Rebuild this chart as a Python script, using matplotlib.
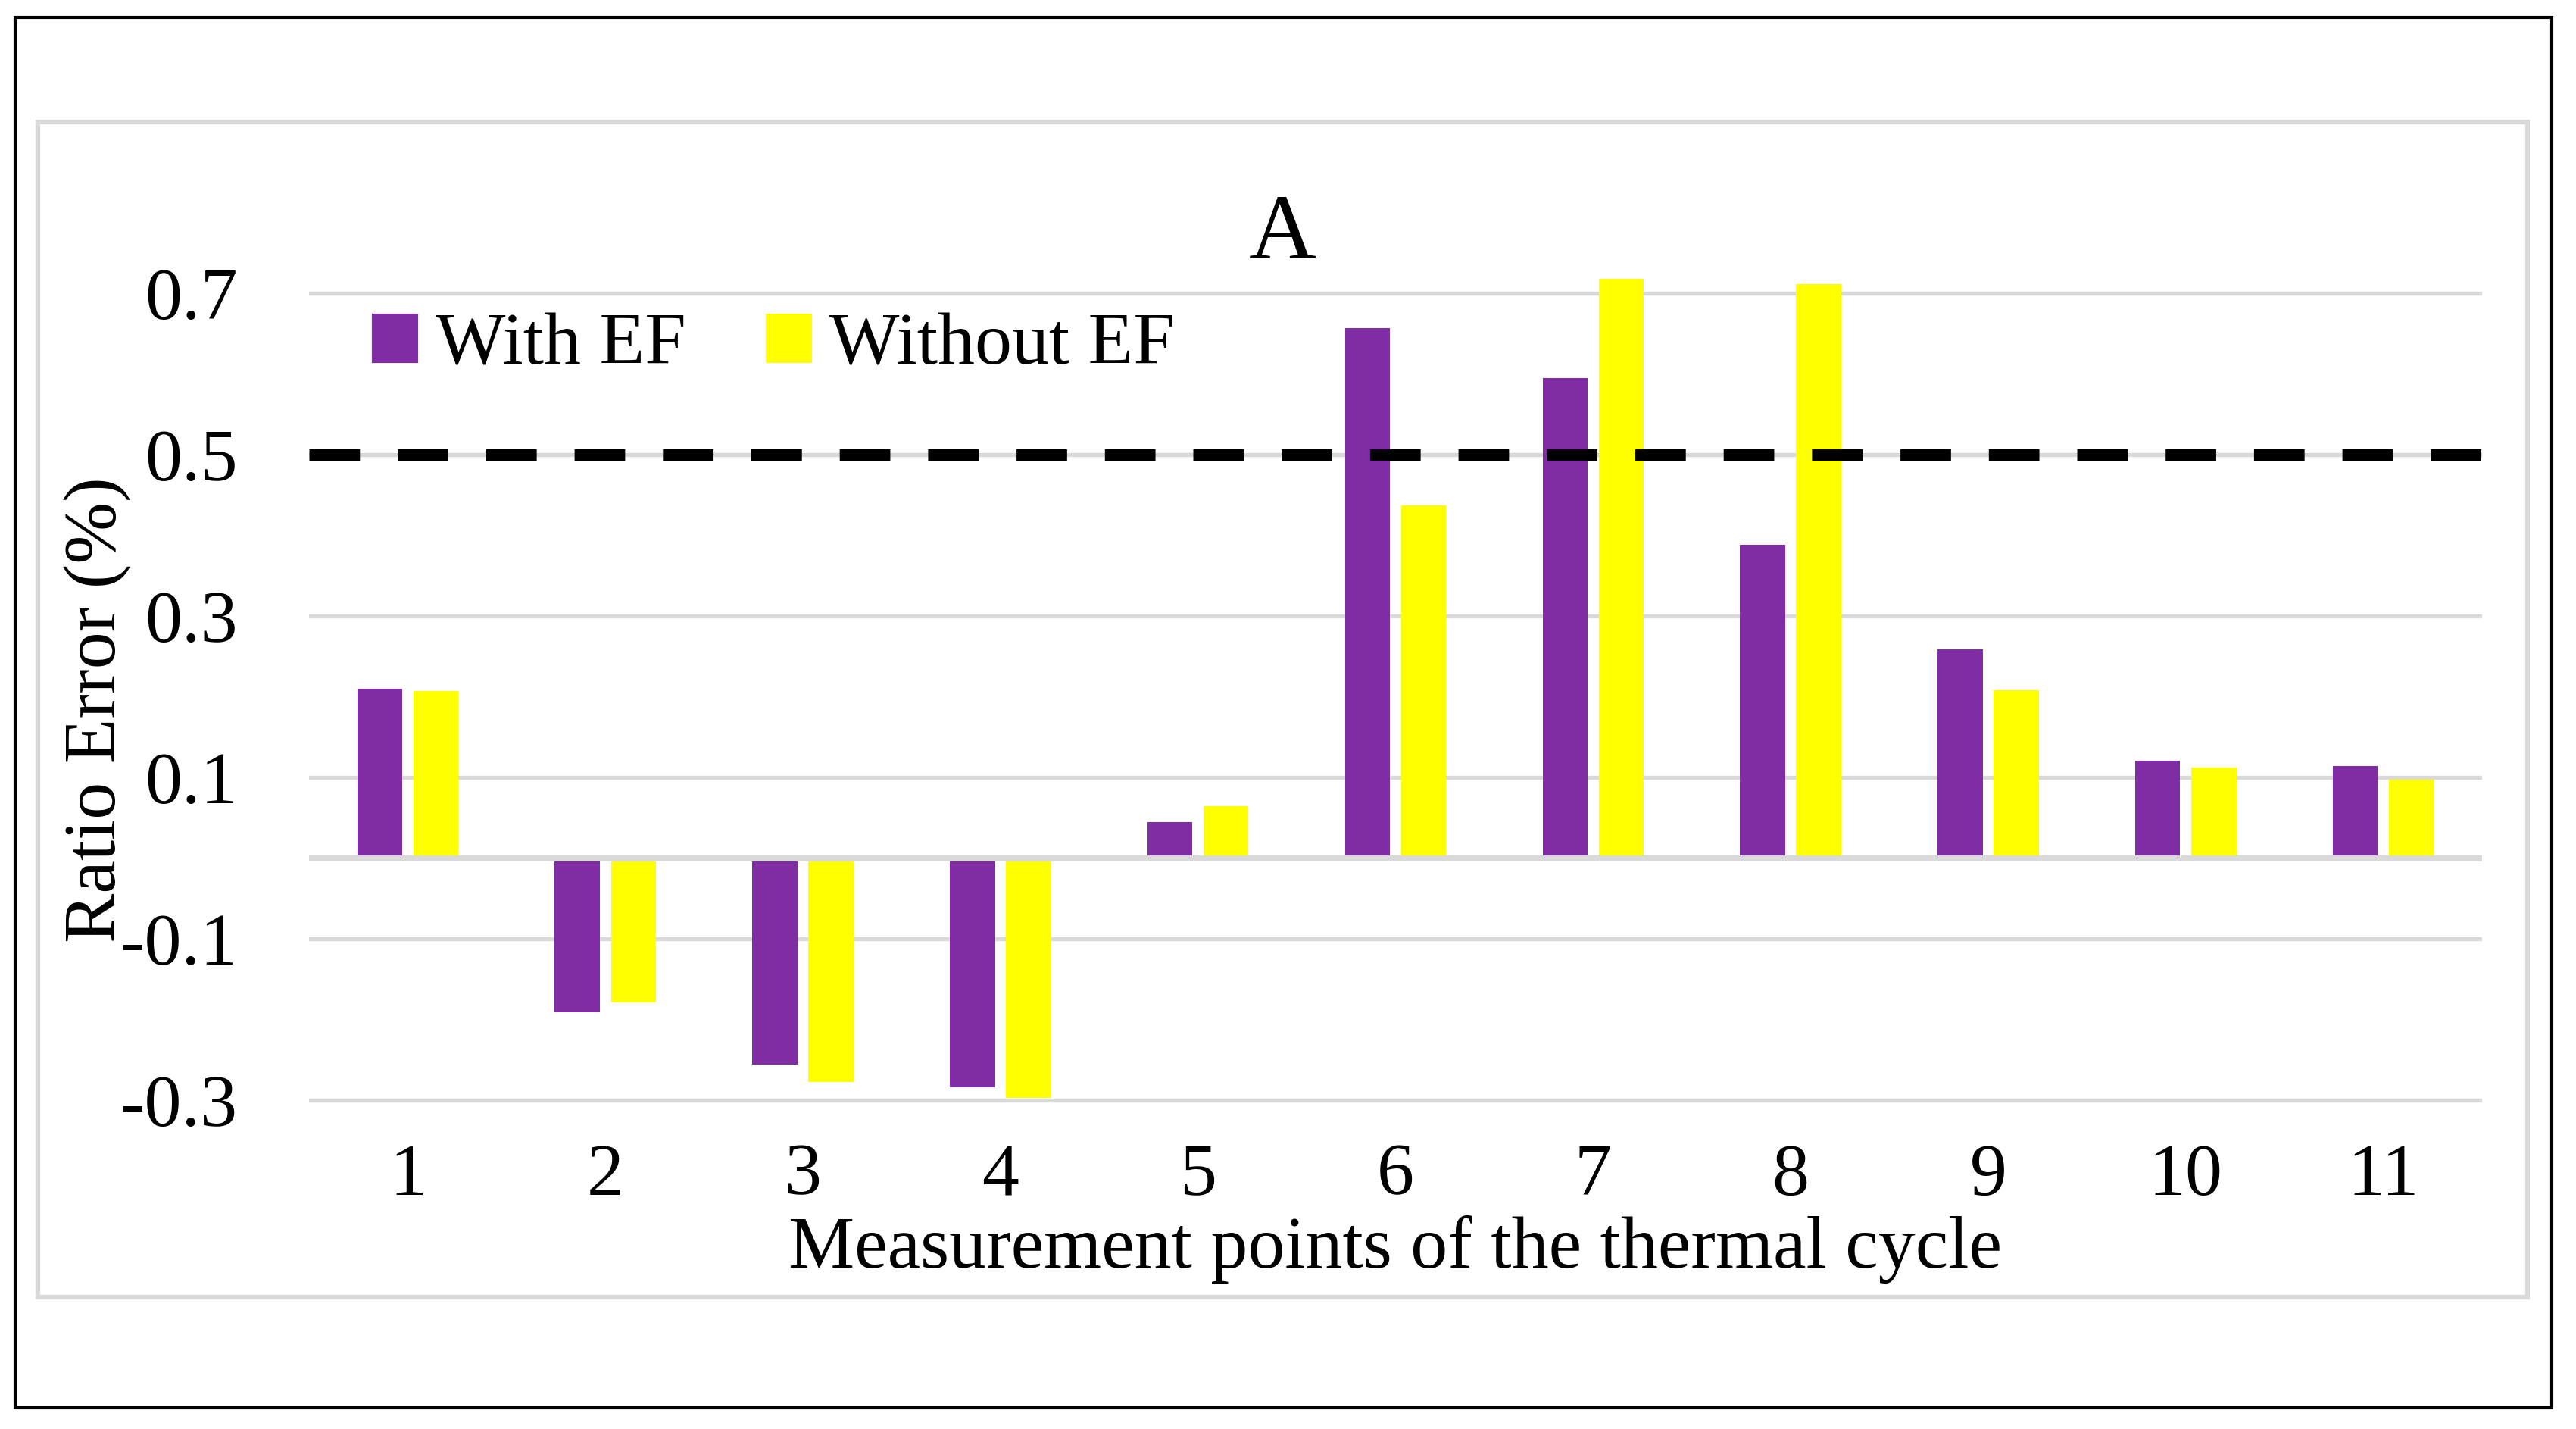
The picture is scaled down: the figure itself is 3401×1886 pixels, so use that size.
import numpy as np
import matplotlib
matplotlib.use('Agg')
import matplotlib.pyplot as plt
from matplotlib.patches import Rectangle, Patch

# values
points = ['1', '2', '3', '4', '5', '6', '7', '8', '9', '10', '11']
with_ef = [0.210, -0.191, -0.256, -0.284, 0.045, 0.657, 0.595, 0.388, 0.259, 0.121, 0.114]
without_ef = [0.207, -0.179, -0.277, -0.297, 0.064, 0.437, 0.718, 0.711, 0.208, 0.112, 0.097]
yticks = [-0.3, -0.1, 0.1, 0.3, 0.5, 0.7]
grid_vals = [-0.3, -0.1, 0.1, 0.3, 0.5, 0.7]
limit = 0.5

purple = '#802ca4'
yellow = '#ffff00'
gray = '#d9d9d9'
fs = 23.5

plt.rcParams['font.family'] = ['Liberation Serif', 'DejaVu Serif']
W, H = 3401, 1886
fig = plt.figure(figsize=(W / 300, H / 300), dpi=300)

# chart area frames
fig.patches.append(Rectangle((20 / W, 1 - 1858 / H), 3349 / W, 1835 / H, transform=fig.transFigure,
                             fill=False, edgecolor='black', lw=1.0))
fig.patches.append(Rectangle((50 / W, 1 - 1712 / H), 3287 / W, 1551 / H, transform=fig.transFigure,
                             fill=False, edgecolor=gray, lw=1.5))

ax = fig.add_axes([408 / W, 1 - 1462.7 / H, 2869 / W, 1160.9 / H])
x = np.arange(len(points))
ax.bar(x - 0.142, with_ef, 0.228, color=purple, zorder=2, label='With EF')
ax.bar(x + 0.142, without_ef, 0.228, color=yellow, zorder=2, label='Without EF')

for g in grid_vals:
    ax.axhline(g, color=gray, lw=1.3, zorder=1)
ax.axhline(0, color=gray, lw=1.9, zorder=3)
ax.axhline(limit, color='black', lw=3.6, dashes=(4.45, 3.33), zorder=4)

ax.set_xlim(-0.5, len(points) - 0.5)
ax.set_ylim(-0.31, 0.78)
ax.set_xticks(x, points)
ax.set_yticks(yticks, ['%.1f' % v for v in yticks])
ax.tick_params(axis='both', length=0, labelsize=fs)
ax.tick_params(axis='x', pad=11.0)
ax.tick_params(axis='y', pad=22.6)
for s in ax.spines.values():
    s.set_visible(False)
ax.patch.set_alpha(0)

fig.text(1842 / W, 1 - 1673 / H, 'Measurement points of the thermal cycle', ha='center', va='baseline', fontsize=fs)
fig.text(129 / W, 1 - 937 / H, 'Ratio Error (%)', ha='center', va='center', rotation=90, fontsize=fs)
fig.text(1693 / W, 1 - 341 / H, 'A', ha='center', va='baseline', fontsize=29.5)

handles = [Patch(color=purple), Patch(color=yellow)]
ax.legend(handles, ['With EF', 'Without EF'], loc='upper left', bbox_to_anchor=(493 / W, 1 - 413 / H),
          bbox_transform=fig.transFigure, ncol=2, frameon=False, fontsize=fs, borderpad=0,
          borderaxespad=0, handlelength=0.58, handleheight=0.57, handletextpad=0.255, columnspacing=1.1)

fig.savefig('out.png', dpi=300)
